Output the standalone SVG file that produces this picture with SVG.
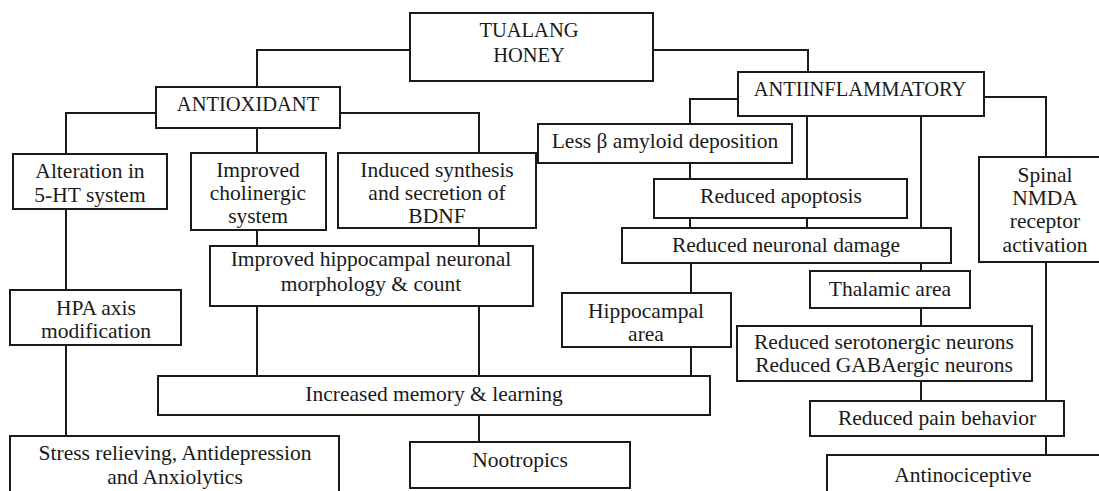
<svg xmlns="http://www.w3.org/2000/svg" width="1099" height="491" viewBox="0 0 1099 491">
<style>
rect{fill:#fff;stroke:#1a1a1a;stroke-width:2}
text{font-family:'Liberation Serif','DejaVu Serif','Noto Serif',serif;font-size:21.5px;fill:#1a1a1a;text-anchor:middle}
text.cap{font-size:20.5px}
#connectors path{fill:none;stroke:#1a1a1a;stroke-width:2}
</style>
<rect x="0" y="0" width="1099" height="491" style="fill:#fff;stroke:none"/>
<g id="connectors">
<path d="M410,50H257V87"/>
<path d="M653,50H808V72"/>
<path d="M156,113H66V154"/>
<path d="M257,128V153"/>
<path d="M340,113H479V153"/>
<path d="M257,230V246"/>
<path d="M479,228V246"/>
<path d="M257,306V376"/>
<path d="M479,306V376"/>
<path d="M66,209V290"/>
<path d="M66,345V436"/>
<path d="M479,415V442"/>
<path d="M738,99H690V124"/>
<path d="M807,116V179"/>
<path d="M921,116V228"/>
<path d="M984,97H1046V157"/>
<path d="M690,163V179"/>
<path d="M690,218V228"/>
<path d="M807,218V228"/>
<path d="M691,263V293"/>
<path d="M691,347V376"/>
<path d="M921,263V271"/>
<path d="M921,308V326"/>
<path d="M921,381V401"/>
<path d="M1046,262V401"/>
<path d="M1046,436V455"/>
</g>
<g id="tualang"><rect x="410" y="13" width="243" height="68"/><text class="cap" x="529" y="37">TUALANG</text><text class="cap" x="529" y="62">HONEY</text></g>
<g id="antioxidant"><rect x="156" y="87" width="184" height="41"/><text class="cap" x="248" y="111">ANTIOXIDANT</text></g>
<g id="antiinflammatory"><rect x="738" y="72" width="246" height="44"/><text class="cap" x="860" y="96">ANTIINFLAMMATORY</text></g>
<g id="alteration"><rect x="13" y="154" width="154" height="55"/><text x="90" y="178">Alteration in</text><text x="90" y="202">5-HT system</text></g>
<g id="cholinergic"><rect x="191" y="153" width="135" height="77"/><text x="258" y="177">Improved</text><text x="258" y="200">cholinergic</text><text x="258" y="223">system</text></g>
<g id="bdnf"><rect x="338" y="153" width="198" height="75"/><text x="437" y="177">Induced synthesis</text><text x="437" y="200">and secretion of</text><text x="437" y="223">BDNF</text></g>
<g id="hippo-morph"><rect x="210" y="246" width="323" height="60"/><text x="371" y="266">Improved hippocampal neuronal</text><text x="371" y="291">morphology &amp; count</text></g>
<g id="hpa"><rect x="10" y="290" width="171" height="55"/><text x="96" y="315">HPA axis</text><text x="96" y="338">modification</text></g>
<g id="memory"><rect x="158" y="376" width="552" height="39"/><text x="434" y="401">Increased memory &amp; learning</text></g>
<g id="stress"><rect x="10" y="436" width="329" height="60"/><text x="175" y="460">Stress relieving, Antidepression</text><text x="175" y="484">and Anxiolytics</text></g>
<g id="nootropics"><rect x="410" y="442" width="220" height="46"/><text x="520" y="467">Nootropics</text></g>
<g id="amyloid"><rect x="538" y="124" width="254" height="39"/><text x="665" y="148">Less β amyloid deposition</text></g>
<g id="apoptosis"><rect x="654" y="179" width="253" height="39"/><text x="781" y="203">Reduced apoptosis</text></g>
<g id="neuronal-damage"><rect x="622" y="228" width="329" height="35"/><text x="786" y="252">Reduced neuronal damage</text></g>
<g id="spinal"><rect x="979" y="157" width="140" height="105"/><text x="1045" y="182">Spinal</text><text x="1045" y="205">NMDA</text><text x="1045" y="228">receptor</text><text x="1045" y="252">activation</text></g>
<g id="hippocampal-area"><rect x="562" y="293" width="169" height="54"/><text x="646" y="318">Hippocampal</text><text x="646" y="341">area</text></g>
<g id="thalamic"><rect x="810" y="271" width="160" height="37"/><text x="890" y="296">Thalamic area</text></g>
<g id="serotonergic"><rect x="737" y="326" width="295" height="55"/><text x="884" y="349">Reduced serotonergic neurons</text><text x="884" y="372">Reduced GABAergic neurons</text></g>
<g id="pain"><rect x="810" y="401" width="254" height="35"/><text x="937" y="425">Reduced pain behavior</text></g>
<g id="antinociceptive"><rect x="827" y="455" width="290" height="50"/><text x="963" y="482">Antinociceptive</text></g>
</svg>
